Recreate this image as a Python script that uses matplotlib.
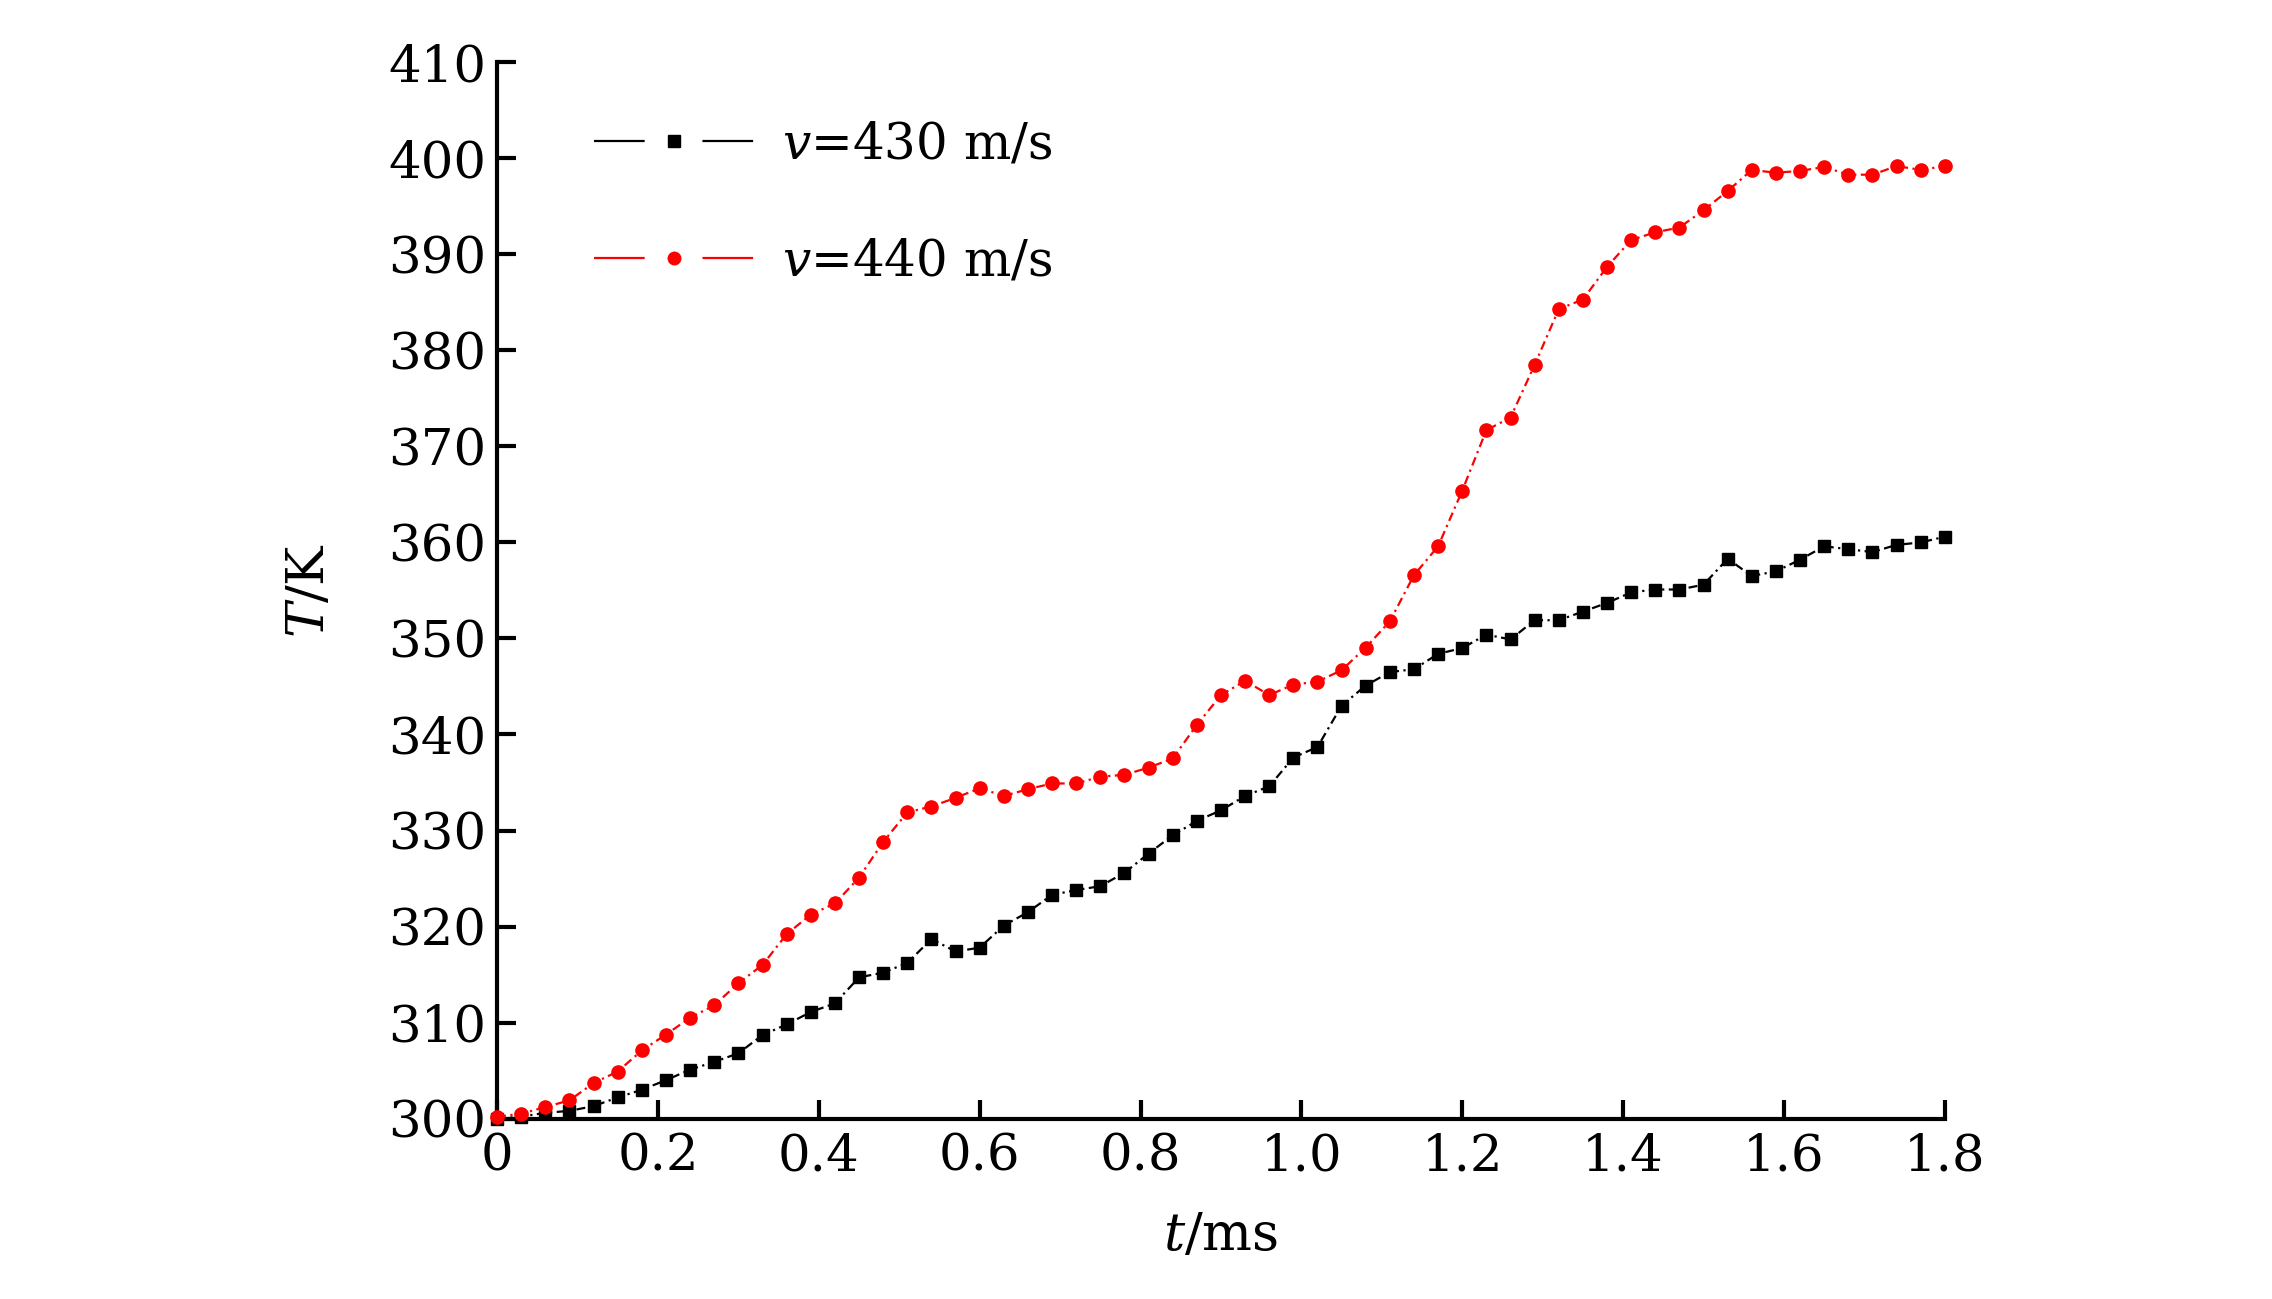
import numpy as np
import matplotlib
matplotlib.use("Agg")
import matplotlib.pyplot as plt
from matplotlib.lines import Line2D

plt.rcParams['font.family'] = ['DejaVu Serif']
plt.rcParams['mathtext.fontset'] = 'dejavuserif'

t = np.round(np.arange(0, 61) * 0.03, 2)

T_430 = [300.0, 300.2, 300.6, 300.8, 301.3, 302.2, 303.0, 304.0, 305.1, 305.9,
         306.8, 308.7, 309.8, 311.1, 312.0, 314.7, 315.2, 316.2, 318.7, 317.4,
         317.8, 320.1, 321.5, 323.3, 323.8, 324.2, 325.6, 327.6, 329.5, 331.0,
         332.1, 333.6, 334.6, 337.6, 338.7, 343.0, 345.1, 346.5, 346.8, 348.4,
         349.0, 350.4, 349.9, 351.9, 351.9, 352.8, 353.7, 354.8, 355.1, 355.1,
         355.6, 358.3, 356.5, 357.0, 358.2, 359.6, 359.3, 359.0, 359.75, 360.0,
         360.6]

T_440 = [300.2, 300.5, 301.2, 301.9, 303.7, 304.9, 307.1, 308.75, 310.5, 311.8,
         314.1, 316.0, 319.2, 321.25, 322.4, 325.1, 328.8, 331.9, 332.5, 333.4,
         334.4, 333.6, 334.3, 334.9, 334.9, 335.6, 335.8, 336.55, 337.5, 341.0,
         344.1, 345.6, 344.1, 345.2, 345.5, 346.7, 349.05, 351.8, 356.6, 359.6,
         365.4, 371.7, 373.0, 378.5, 384.3, 385.3, 388.7, 391.5, 392.3, 392.8,
         394.6, 396.6, 398.8, 398.5, 398.7, 399.1, 398.3, 398.3, 399.2, 398.8,
         399.2]

labels = ["$v$=430 m/s", "$v$=440 m/s"]
colors = ["black", "#ff0000"]
markers = ["s", "o"]

xticks = [0, 0.2, 0.4, 0.6, 0.8, 1.0, 1.2, 1.4, 1.6, 1.8]
xticklabels = ["0", "0.2", "0.4", "0.6", "0.8", "1.0", "1.2", "1.4", "1.6", "1.8"]
yticks = np.arange(300, 411, 10)

fig = plt.figure(figsize=(22.72, 12.99), dpi=100)
ax = fig.add_axes([0.2188, 0.1389, 0.856 - 0.2188, 0.952 - 0.1389])

lw = 1.6
ax.plot(t, T_430, color=colors[0], marker=markers[0], markersize=9,
        lw=lw, ls=(0, (4, 2, 1, 2)), clip_on=False, zorder=3)
ax.plot(t, T_440, color=colors[1], marker=markers[1], markersize=9.5,
        lw=lw, ls=(0, (4, 2, 1, 2)), clip_on=False, zorder=3)

ax.set_xlim(0, 1.8)
ax.set_ylim(300, 410)
ax.set_xticks(xticks)
ax.set_xticklabels(xticklabels)
ax.set_yticks(yticks)

for s in ["top", "right"]:
    ax.spines[s].set_visible(False)
for s in ["left", "bottom"]:
    ax.spines[s].set_linewidth(3)

ax.tick_params(direction="in", length=14, width=3, labelsize=37)
ax.tick_params(axis="y", pad=8)
ax.tick_params(axis="x", pad=10)

ax.set_xlabel("$t$/ms", fontsize=38, labelpad=20)
ax.set_ylabel("$T$/K", fontsize=38, labelpad=38)

handles = [Line2D([], [], color=c, marker=m, markersize=9, lw=lw,
                  ls=(0, (22.8, 26, 22.8)))
           for c, m in zip(colors, markers)]
ax.legend(handles, labels, loc="upper left", bbox_to_anchor=(0.067, 0.945),
          frameon=False, fontsize=36, handlelength=3.19, handletextpad=0.57,
          numpoints=1, borderpad=0, borderaxespad=0, labelspacing=1.35)

fig.savefig("out.png", dpi=100)
